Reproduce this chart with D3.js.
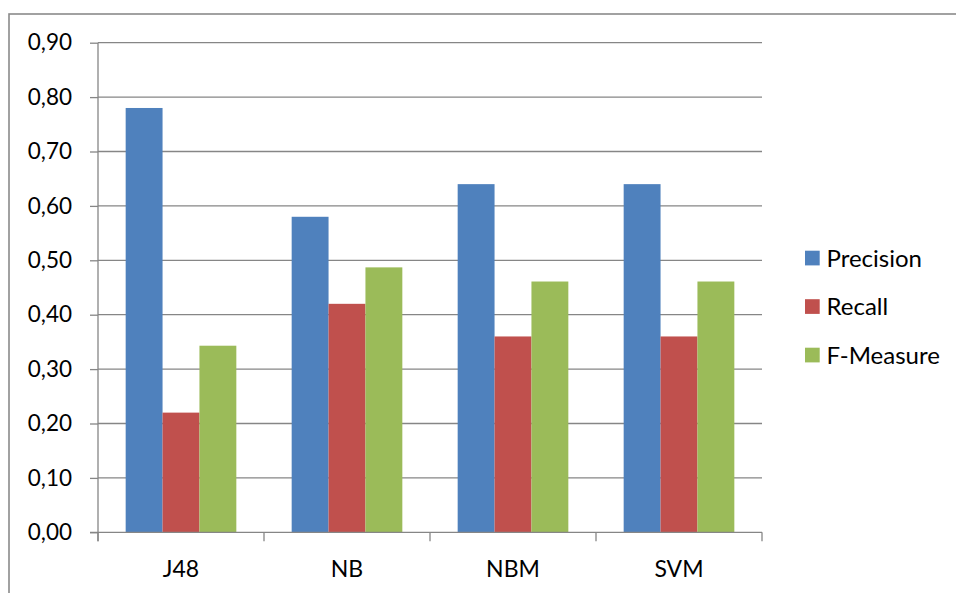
<!DOCTYPE html>
<html>
<head>
<meta charset="utf-8">
<script src="https://cdn.jsdelivr.net/npm/d3@7"></script>
<style>
  html, body { margin: 0; padding: 0; background: #ffffff; }
  svg { display: block; }
  text { font-family: Lato, "Open Sans", sans-serif; fill: #000; }
</style>
</head>
<body>
<svg id="chart" width="956" height="593"></svg>
<script>
// Classifier comparison: precision, recall and F-measure per algorithm
const categories = ["J48", "NB", "NBM", "SVM"];
const seriesNames = ["Precision", "Recall", "F-Measure"];
const precision = [0.78, 0.58, 0.64, 0.64];
const recall = [0.22, 0.42, 0.36, 0.36];
const fMeasure = [0.343, 0.487, 0.461, 0.461];
const yTicks = [0, 0.1, 0.2, 0.3, 0.4, 0.5, 0.6, 0.7, 0.8, 0.9];

const seriesValues = [precision, recall, fMeasure];
const colors = ["#4F81BD", "#C0504D", "#9BBB59"];
const gridColor = "#868686";

const svg = d3.select("#chart");

// Outer chart frame (runs past the right and bottom edges)
svg.append("rect")
  .attr("x", 9).attr("y", 14)
  .attr("width", 1000).attr("height", 1000)
  .attr("fill", "none")
  .attr("stroke", "#8a8a8a")
  .attr("stroke-width", 1.6);

const plot = { left: 98, right: 762, top: 42.7, bottom: 532.3 };

const y = d3.scaleLinear()
  .domain([0, 0.9])
  .range([plot.bottom, plot.top]);

const x = d3.scaleBand()
  .domain(categories)
  .range([plot.left, plot.right])
  .padding(0);

// Bars take 3 of 4.5 slots in each category (gap width 150%)
const xs = d3.scaleBand()
  .domain(seriesNames)
  .range([0, x.bandwidth()])
  .paddingInner(0)
  .paddingOuter(0.75);

const locale = d3.formatLocale({ decimal: ",", thousands: ".", grouping: [3], currency: ["", ""] });
const fmt = locale.format(".2f");

// Horizontal gridlines
svg.append("g")
  .selectAll("line")
  .data(yTicks.filter(d => d > 0))
  .join("line")
  .attr("x1", plot.left).attr("x2", plot.right)
  .attr("y1", d => y(d)).attr("y2", d => y(d))
  .attr("stroke", gridColor)
  .attr("stroke-width", 1.3);

// Bars
const groups = svg.append("g")
  .selectAll("g")
  .data(categories)
  .join("g")
  .attr("transform", d => `translate(${x(d)},0)`);

groups.selectAll("rect")
  .data((c, i) => seriesNames.map((s, j) => ({ s, v: seriesValues[j][i], j })))
  .join("rect")
  .attr("x", d => xs(d.s))
  .attr("width", xs.bandwidth())
  .attr("y", d => y(d.v))
  .attr("height", d => y(0) - y(d.v))
  .attr("fill", d => colors[d.j]);

// Y axis ticks and labels
const yAxis = d3.axisLeft(y)
  .tickValues(yTicks)
  .tickSize(8)
  .tickPadding(18)
  .tickFormat(fmt);

const gy = svg.append("g")
  .attr("transform", `translate(${plot.left},0)`)
  .call(yAxis);
gy.select(".domain").remove();
gy.selectAll(".tick line").attr("stroke", gridColor).attr("stroke-width", 1.3);
gy.selectAll(".tick text")
  .attr("font-size", 22.5)
  .attr("font-family", "Lato, 'Open Sans', sans-serif")
  .attr("fill", "#000");

svg.append("line")
  .attr("x1", plot.left).attr("x2", plot.left)
  .attr("y1", plot.top).attr("y2", plot.bottom + 9)
  .attr("stroke", gridColor).attr("stroke-width", 1.3);

// X axis line with boundary ticks between categories
svg.append("line")
  .attr("x1", plot.left - 8).attr("x2", plot.right)
  .attr("y1", plot.bottom).attr("y2", plot.bottom)
  .attr("stroke", gridColor).attr("stroke-width", 1.3);

const boundaries = categories.map(c => x(c)).concat([x(categories[categories.length - 1]) + x.bandwidth()]);
svg.append("g")
  .selectAll("line")
  .data(boundaries)
  .join("line")
  .attr("x1", d => d).attr("x2", d => d)
  .attr("y1", plot.bottom).attr("y2", plot.bottom + 9)
  .attr("stroke", gridColor).attr("stroke-width", 1.3);

svg.append("g")
  .selectAll("text")
  .data(categories)
  .join("text")
  .attr("x", d => x(d) + x.bandwidth() / 2)
  .attr("y", 577)
  .attr("text-anchor", "middle")
  .attr("font-size", 23)
  .text(d => d);

// Legend
const legend = svg.append("g")
  .selectAll("g")
  .data(seriesNames)
  .join("g")
  .attr("transform", (d, i) => `translate(805,${258 + i * 48.5})`);

legend.append("rect")
  .attr("x", 0).attr("y", -7.3)
  .attr("width", 14.7).attr("height", 14.7)
  .attr("fill", (d, i) => colors[i]);

legend.append("text")
  .attr("x", 21.5)
  .attr("y", 8.5)
  .attr("font-size", 24)
  .text(d => d);
</script>
</body>
</html>
